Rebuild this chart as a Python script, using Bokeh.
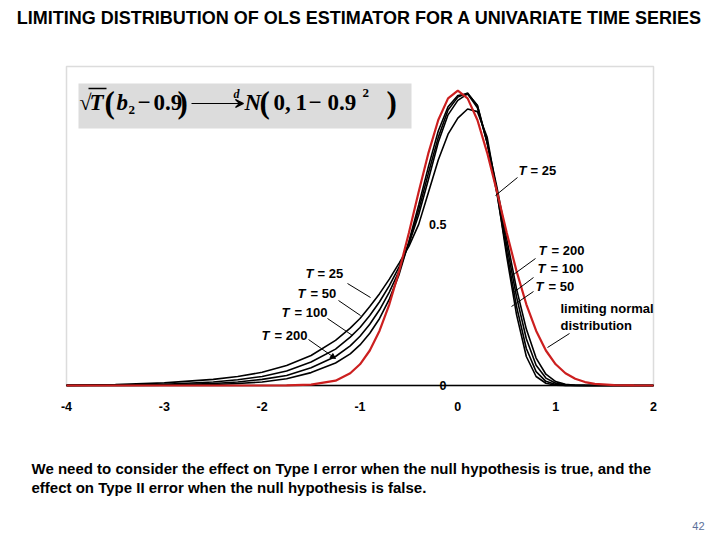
from bokeh.plotting import figure
from bokeh.models import Range1d, Label, BoxAnnotation, Arrow, VeeHead, NormalHead
from bokeh.core.properties import value
from bokeh.embed import file_html
from bokeh.resources import INLINE

# ---------------- data ----------------
x_grid = [-4.0, -3.5, -3.0, -2.5, -2.25, -2.0, -1.75, -1.5, -1.25, -1.1, -1.0, -0.9, -0.8, -0.7,
          -0.6, -0.5, -0.4, -0.3, -0.2, -0.1, 0.0, 0.1, 0.2, 0.3, 0.4, 0.5, 0.6, 0.7, 0.8, 0.9,
          1.0, 1.1, 1.2, 1.3, 1.4, 1.6, 1.8, 2.0]

dens_limit = [0, 0, 0, 0, 0, 0.0, 0.0003, 0.0025, 0.0150, 0.0379, 0.0658, 0.1086, 0.170, 0.252,
              0.355, 0.474, 0.601, 0.722, 0.824, 0.891, 0.915, 0.891, 0.824, 0.722, 0.601, 0.474,
              0.355, 0.252, 0.170, 0.1086, 0.0658, 0.0379, 0.0207, 0.0107, 0.0053, 0.0011, 0.0002, 0.0]

dens_T25 = [0.001, 0.003, 0.008, 0.019, 0.028, 0.041, 0.062, 0.093, 0.140, 0.178, 0.208, 0.245,
            0.285, 0.330, 0.380, 0.432, 0.500, 0.600, 0.700, 0.780, 0.830, 0.858, 0.850, 0.770,
            0.600, 0.400, 0.220, 0.090, 0.028, 0.007, 0.001, 0, 0, 0, 0, 0, 0, 0]

dens_T50 = [0.0005, 0.0015, 0.004, 0.011, 0.018, 0.028, 0.045, 0.073, 0.113, 0.150, 0.180, 0.217,
            0.260, 0.310, 0.368, 0.440, 0.530, 0.640, 0.755, 0.840, 0.885, 0.905, 0.870, 0.755,
            0.595, 0.415, 0.245, 0.115, 0.043, 0.013, 0.003, 0.0005, 0, 0, 0, 0, 0, 0]

dens_T100 = [0.0002, 0.0007, 0.002, 0.006, 0.011, 0.019, 0.031, 0.055, 0.090, 0.123, 0.153, 0.190,
             0.235, 0.290, 0.356, 0.443, 0.545, 0.660, 0.770, 0.855, 0.895, 0.908, 0.868, 0.752,
             0.605, 0.435, 0.275, 0.145, 0.063, 0.023, 0.007, 0.002, 0.0005, 0, 0, 0, 0, 0]

dens_T200 = [0.0, 0.0003, 0.001, 0.003, 0.006, 0.011, 0.021, 0.040, 0.070, 0.098, 0.126, 0.162,
             0.208, 0.268, 0.345, 0.447, 0.560, 0.680, 0.790, 0.865, 0.900, 0.905, 0.862, 0.755,
             0.615, 0.455, 0.300, 0.175, 0.085, 0.035, 0.012, 0.004, 0.001, 0.0003, 0, 0, 0, 0]

x_ticks = [-4, -3, -2, -1, 0, 1, 2]
x_tick_labels = ["-4", "-3", "-2", "-1", "0", "1", "2"]
y_ticks = [0, 0.5]
y_tick_labels = ["0", "0.5"]
y_top = 0.99

# ---------------- page geometry (pixel <-> data) ----------------
W, H = 720, 540
FL, FR, FT, FB = 66, 653, 66, 385      # where the chart box sits on the page


def dx(px):
    return x_ticks[0] + (px - FL) / (FR - FL) * (x_ticks[-1] - x_ticks[0])


def dy(py):
    return (FB - py) / (FB - FT) * y_top


p = figure(width=W, height=H, x_range=Range1d(dx(0), dx(W)), y_range=Range1d(dy(H), dy(0)),
           output_backend="svg", toolbar_location=None, x_axis_location=None,
           y_axis_location=None, min_border=0, title_location=None)
p.grid.visible = False
p.outline_line_color = None
p.background_fill_color = "white"
p.border_fill_color = "white"

SANS = "Liberation Sans"
SER = "Liberation Serif"

# chart box (grey frame) and the black x axis line at y = 0
p.add_layout(BoxAnnotation(left=x_ticks[0], right=x_ticks[-1], bottom=y_ticks[0], top=y_top,
                           fill_color=None, line_color="#8a8a8a", line_width=1.5,
                           level="underlay"))
p.line([x_ticks[0], x_ticks[-1]], [y_ticks[0], y_ticks[0]], line_color="black", line_width=1.5)

# ---------------- curves ----------------
for series in (dens_T25, dens_T50, dens_T100, dens_T200):
    p.line(x_grid, series, line_color="black", line_width=1.6)
p.line(x_grid, dens_limit, line_color="#cc1f1f", line_width=2.2)

# tick labels
p.text(x=x_ticks, y=[dy(406)] * len(x_ticks), text=x_tick_labels, text_font=value(SANS),
       text_font_style=value("bold"), text_font_size=value("12.5px"), text_align="center",
       text_baseline="middle", text_color="black")
p.text(x=[dx(446)] * len(y_ticks), y=y_ticks, text=y_tick_labels, text_font=value(SANS),
       text_font_style=value("bold"), text_font_size=value("12.5px"), text_align="right",
       text_baseline="middle", text_color="black")


def txt(text, px, py, size="13px", style="bold", font=SANS, align="left",
        color="black", baseline="middle"):
    p.add_layout(Label(x=dx(px), y=dy(py), text=text, text_font=font, text_font_size=size,
                       text_font_style=style, text_align=align, text_baseline=baseline,
                       text_color=color))


def seg(px0, py0, px1, py1, w=1.0):
    p.segment(x0=[dx(px0)], y0=[dy(py0)], x1=[dx(px1)], y1=[dy(py1)], line_color="black",
              line_width=w)


# title, caption, page number
txt("LIMITING DISTRIBUTION OF OLS ESTIMATOR FOR A UNIVARIATE TIME SERIES", 359, 17,
    size="18px", align="center")
txt("We need to consider the effect on Type I error when the null hypothesis is true, and the",
    31, 468, size="15px")
txt("effect on Type II error when the null hypothesis is false.", 31, 487, size="15px")
txt("42", 704, 525, size="11px", style="normal", align="right", color="#5b6f9a")

# curve labels - right side
for tx, ex, yy, lab in [(518, 530, 170, "= 25"), (538, 551, 250, "= 200"),
                        (537, 550, 268, "= 100"), (535, 548, 286, "= 50")]:
    txt("T", tx, yy, style="bold italic")
    txt(lab, ex, yy)
seg(517, 177, 495, 195)
seg(535, 258, 513, 274)
seg(533, 277, 513, 292)
seg(533, 291, 511, 306)
txt("limiting normal", 560, 308)
txt("distribution", 560, 325)
seg(569, 333, 547, 347)

# curve labels - left side
for tx, ex, yy, lab in [(305, 317, 273, "= 25"), (297, 310, 293, "= 50"),
                        (281, 294, 312, "= 100"), (261, 274, 335, "= 200")]:
    txt("T", tx, yy, style="bold italic")
    txt(lab, ex, yy)
seg(347, 283, 370, 297)
seg(338, 300, 360, 315)
seg(327, 318, 352, 335)
p.add_layout(Arrow(end=NormalHead(size=5, fill_color="black", line_color="black"),
                   x_start=dx(308), y_start=dy(339), x_end=dx(335), y_end=dy(358),
                   line_color="black", line_width=1.0))

# formula box
p.add_layout(BoxAnnotation(left=dx(78), right=dx(411), top=dy(83), bottom=dy(128),
                           fill_color="#dcdcdc", fill_alpha=1.0, line_color=None,
                           level="underlay"))
MID = 102
txt("\u221a", 79, MID, size="22px", style="normal", font=SER)
seg(88, 88, 106, 88, w=1.4)
txt("T", 89, MID, size="23px", style="bold italic", font=SER)
txt("(", 104, MID, size="31px", style="bold", font=SER)
txt("b", 116, MID, size="23px", style="bold italic", font=SER)
txt("2", 128, MID + 7, size="13px", style="bold", font=SER)
txt("\u2212", 137, MID, size="23px", style="bold", font=SER)
txt("0.9", 153, MID, size="23px", style="bold", font=SER)
txt(")", 177, MID, size="31px", style="bold", font=SER)
p.add_layout(Arrow(end=VeeHead(size=8, line_color="black", line_width=1.2),
                   x_start=dx(191), y_start=dy(103), x_end=dx(243), y_end=dy(103),
                   line_color="black", line_width=1.2))
txt("d", 233, 93, size="12px", style="bold italic", font=SER)
txt("N", 244, MID, size="23px", style="bold italic", font=SER)
txt("(", 259, MID, size="31px", style="bold", font=SER)
txt("0,", 273, MID, size="23px", style="bold", font=SER)
txt("1", 295, MID, size="23px", style="bold", font=SER)
txt("\u2212", 308, MID, size="23px", style="bold", font=SER)
txt("0.9", 327, MID, size="23px", style="bold", font=SER)
txt("2", 362, 92, size="13px", style="bold", font=SER)
txt(")", 386, MID, size="31px", style="bold", font=SER)

open("out.html", "w").write(file_html(p, INLINE))
